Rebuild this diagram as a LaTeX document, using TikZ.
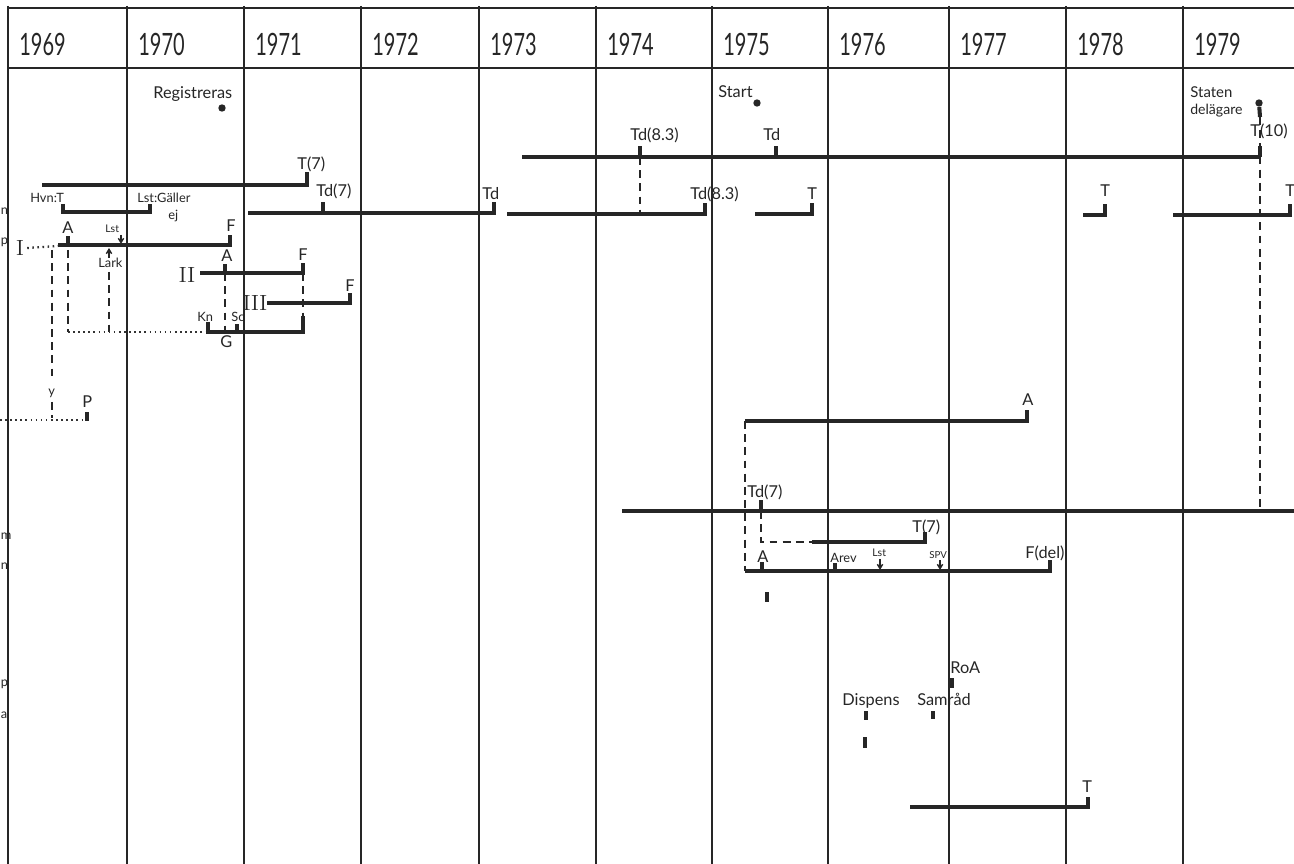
\documentclass[tikz,border=0pt]{standalone}
\usepackage{fontspec}
\newfontfamily\hand{Lato}
\newfontfamily\yearfont[FakeStretch=0.65]{Lato}
\usetikzlibrary{arrows.meta}

\tikzset{
  grid/.style={line width=1.1pt, black!85},
  bar/.style={line width=2.3pt, black!85},
  dashln/.style={line width=1.6pt, black!85, dash pattern=on 4.5pt off 3pt},
  dotln/.style={line width=1.3pt, black!80, dash pattern=on 0.9pt off 2pt},
  year/.style={font=\yearfont\fontsize{17.5}{18}\selectfont, text=black!85, inner sep=0pt, anchor=base west},
  lbl/.style={font=\hand\fontsize{9.3}{10}\selectfont, text=black!85, inner sep=0pt, anchor=base west},
  lblsm/.style={font=\hand\fontsize{7.3}{8}\selectfont, text=black!85, inner sep=0pt, anchor=base west},
  roman/.style={font=\rmfamily\fontsize{12.5}{13}\selectfont, text=black!85, inner sep=0pt},
  dotmark/.style={circle, fill=black!85, inner sep=0pt, minimum size=4.2pt},
}

\begin{document}
\begin{tikzpicture}[x=0.02cm, y=-0.02cm, >={Straight Barb[length=2.5pt,width=3pt]}]
    \useasboundingbox (0,0) rectangle (1294,864);
    \fill[white] (0,0) rectangle (1294,864);

    % year columns
    \draw[grid] (8,8) -- (1294,8);
    \draw[grid] (8,68) -- (1294,68);
    \foreach \x/\yr in {8/1969, 127/1970, 244/1971, 361/1972, 479/1973, 596/1974,
                        712/1975, 828/1976, 949/1977, 1066/1978, 1183/1979} {
        \draw[grid] (\x,6) -- (\x,864);
        \node[year] (y\yr) at (\x+11,56) {\yr};
    }

    % cut letters at the left edge
    \foreach \ch/\yy in {n/215, p/245, m/539, n/569, p/686, a/718}
        \node[lblsm, anchor=base west] at (0.5,\yy) {\ch};

    % events on top
    \node[lbl] (reg) at (153,99) {Registreras};
    \node[dotmark] (regdot) at (222,108) {};
    \node[lbl] (start) at (718,98) {Start};
    \node[dotmark] (startdot) at (757,103) {};
    \node[lbl, font=\hand\fontsize{8.5}{9}\selectfont] (staten) at (1190,98) {Staten};
    \node[lbl, font=\hand\fontsize{8}{9}\selectfont] (delag) at (1190,115) {delägare};
    \node[dotmark] (statdot) at (1259,103) {};
    \coordinate (statend) at (1260,511);
    \draw[bar] (statdot) -- (1260,117);
    \draw[dashln] (1260,117) -- (statend);

    % upper long row
    \draw[bar] (522,157) -- (1260,157);
    \draw[bar] (640,157) -- (640,146);
    \draw[bar] (776,157) -- (776,146);
    \draw[bar] (1260,157) -- (1260,146);
    \node[lbl] (td83a) at (630,141) {Td(8.3)};
    \node[lbl] (tda) at (763,141) {Td};
    \node[lbl] (t10) at (1250,137) {T(10)};
    \draw[dashln] (640,157) -- (640,214);

    \draw[bar] (42,185) -- (307,185) -- (307,172);
    \node[lbl] (t7a) at (297,170) {T(7)};

    % second row
    \draw[bar] (248,213) -- (494,213) -- (494,202);
    \draw[bar] (323,213) -- (323,202);
    \node[lbl] (td7a) at (316,197) {Td(7)};
    \node[lbl] (tdb) at (482,200) {Td};
    \draw[bar] (507,214) -- (705,214) -- (705,203);
    \node[lbl] (td83b) at (690,200) {Td(8.3)};
    \draw[bar] (755,214) -- (812,214) -- (812,203);
    \node[lbl] (ta) at (807,200) {T};
    \draw[bar] (1083,215) -- (1105,215) -- (1105,204);
    \node[lbl] (tb) at (1100,197) {T};
    \draw[bar] (1173,215) -- (1290,215) -- (1290,204);
    \node[lbl] (tc) at (1285,197) {T};

    % Hvn row
    \node[lblsm] (hvn) at (30,203) {Hvn:T};
    \draw[bar] (63,204) -- (63,212) -- (150,212) -- (150,204);
    \node[lblsm] (lstg) at (137,203) {Lst:Gäller};
    \node[lblsm] (ej) at (168,220) {ej};

    % process I
    \node[roman] (rI) at (20,248) {I};
    \draw[dotln] (rI.east) ++(3,0) -- (58,246);
    \draw[bar] (58,245) -- (230,245) -- (230,235);
    \draw[bar] (68,245) -- (68,236);
    \node[lbl] (aI) at (62,234) {A};
    \node[lbl] (fI) at (226,232) {F};
    \node[lblsm, font=\hand\fontsize{6}{6}\selectfont] (lstI) at (105,233) {Lst};
    \draw[->, thick, black!85] (121,235) -- (121,244);
    \draw[->, thick, black!85] (109,258) -- (109,248);
    \node[lblsm] (lark) at (98,268) {Lark};
    \draw[dashln] (109,272) -- (109,332);
    \draw[dashln] (52,250) -- (52,378);
    \node[lblsm] (ymark) at (48,396) {y};
    \draw[dashln] (52,402) -- (52,418);
    \draw[dashln] (68,250) -- (68,332);
    \draw[dotln] (68,332) -- (208,332);

    % process II and III
    \node[roman] (rII) at (187,275) {II};
    \draw[bar] (200,273) -- (303,273) -- (303,263);
    \draw[bar] (225,273) -- (225,264);
    \node[lbl] (aII) at (221,262) {A};
    \node[lbl] (fII) at (298,261) {F};
    \draw[dashln] (225,273) -- (225,332);
    \draw[dashln] (303,273) -- (303,316);
    \node[roman] (rIII) at (255,303) {III};
    \draw[bar] (267,303) -- (350,303) -- (350,293);
    \node[lbl] (fIII) at (345,292) {F};

    % G
    \draw[bar] (208,322) -- (208,332) -- (303,332) -- (303,316);
    \draw[bar] (237,332) -- (237,324);
    \node[lblsm] (kn) at (197,322) {Kn};
    \node[lblsm] (sc) at (231,322) {Sc};
    \node[lbl] (gI) at (220,348) {G};

    % P
    \draw[dotln] (0,420) -- (85,420);
    \draw[bar] (87,421) -- (87,412);
    \node[lbl] (pI) at (82,408) {P};

    % middle block
    \draw[bar] (745,421) -- (1027,421) -- (1027,410);
    \node[lbl] (aM) at (1022,406) {A};
    \draw[dashln] (745,421) -- (745,571);
    \draw[bar] (622,511) -- (1294,511);
    \draw[bar] (761,511) -- (761,500);
    \node[lbl] (td7b) at (747,497) {Td(7)};
    \draw[dashln] (761,511) -- (761,542) -- (812,542);
    \draw[bar] (812,542) -- (925,542) -- (925,532);
    \node[lbl] (t7b) at (912,532) {T(7)};

    \draw[bar] (745,571) -- (1050,571) -- (1050,560);
    \draw[bar] (762,571) -- (762,562);
    \node[lbl] (aN) at (757,562) {A};
    \draw[bar] (835,571) -- (835,563);
    \node[lblsm] (arev) at (830,562) {Arev};
    \node[lblsm, font=\hand\fontsize{6}{6}\selectfont] (lstN) at (872,556) {Lst};
    \draw[->, thick, black!85] (880,559) -- (880,570);
    \node[lblsm, font=\hand\fontsize{5.5}{6}\selectfont] (spv) at (929,558) {SPV};
    \draw[->, thick, black!85] (940,560) -- (940,570);
    \node[lbl] (fdel) at (1025,558) {F(del)};
    \draw[bar] (767,592) -- (767,602);

    % lower events
    \node[lbl] (roa) at (950,673) {RoA};
    \draw[bar] (952,678) -- (952,688);
    \node[lbl] (disp) at (842,705) {Dispens};
    \draw[bar] (866,711) -- (866,720);
    \draw[bar] (865,737) -- (865,748);
    \node[lbl] (samr) at (917,705) {Samråd};
    \draw[bar] (933,711) -- (933,719);

    \draw[bar] (910,807) -- (1088,807) -- (1088,797);
    \node[lbl] (tl) at (1082,792) {T};
\end{tikzpicture}
\end{document}
